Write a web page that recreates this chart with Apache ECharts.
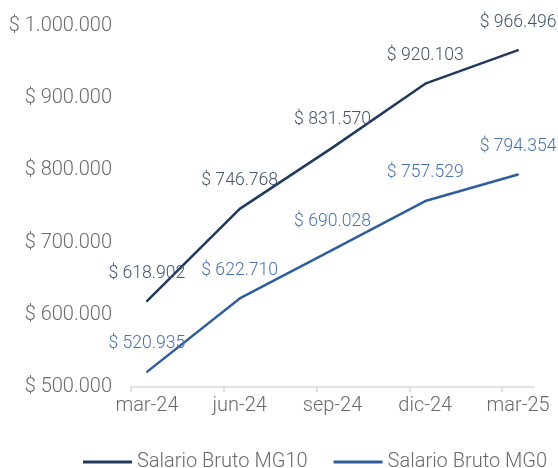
<!DOCTYPE html>
<html>
<head>
<meta charset="utf-8">
<script src="https://cdn.jsdelivr.net/npm/echarts@6/dist/echarts.min.js"></script>
<style>
	html, body { margin: 0; padding: 0; background: #fff; }
	#main { width: 558px; height: 468px; }
</style>
</head>
<body>
<div id="main"></div>
<script>
// data
const categories = ['mar-24', 'jun-24', 'sep-24', 'dic-24', 'mar-25'];
const salarioMG10 = [618902, 746768, 831570, 920103, 966496];
const salarioMG0 = [520935, 622710, 690028, 757529, 794354];
const yTicks = [500000, 600000, 700000, 800000, 900000, 1000000];

// x axis runs a bit past the first and last point, ticks sit left of each point
const pad = 0.172;

function money(v) {
	return '$ ' + String(Math.round(v)).replace(/\B(?=(\d{3})+(?!\d))/g, '.');
}

const toPairs = (arr) => arr.map((v, i) => [i, v]);

const myChart = echarts.init(document.getElementById('main'));

const labelFont = { fontFamily: 'Roboto', fontWeight: 300, fontSize: 20 };
const dataFont = { fontFamily: 'Roboto', fontWeight: 300, fontSize: 17.6 };

const option = {
	animation: false,
	grid: { left: 131, right: 24, top: 26, bottom: 81 },
	xAxis: {
		type: 'value',
		min: -pad,
		max: categories.length - 1 + pad,
		splitLine: { show: false },
		axisLine: { show: true, lineStyle: { color: '#d9d9d9', width: 1.5 } },
		axisTick: {
			show: true,
			length: 5,
			lineStyle: { color: '#d9d9d9', width: 1.5 },
			customValues: categories.map((c, i) => i - pad)
		},
		axisLabel: {
			...labelFont,
			color: '#6a6a6a',
			margin: 9,
			customValues: categories.map((c, i) => i),
			formatter: (v) => categories[Math.round(v)]
		}
	},
	yAxis: {
		type: 'value',
		min: yTicks[0],
		max: yTicks[yTicks.length - 1],
		interval: 100000,
		axisLine: { show: false },
		axisTick: { show: false },
		splitLine: { show: false },
		axisLabel: {
			...labelFont,
			color: '#6a6a6a',
			margin: 19,
			formatter: money
		}
	},
	legend: {
		left: 78,
		top: 447,
		itemWidth: 49,
		itemHeight: 3,
		itemGap: 26,
		icon: 'rect',
		textStyle: { ...labelFont, color: '#6a6a6a' },
		data: ['Salario Bruto MG10', 'Salario Bruto MG0']
	},
	series: [
		{
			name: 'Salario Bruto MG10',
			type: 'line',
			symbol: 'circle',
			symbolSize: 2,
			showSymbol: true,
			data: toPairs(salarioMG10),
			lineStyle: { color: '#203a5c', width: 2.5 },
			itemStyle: { color: '#203a5c' },
			labelLayout: { hideOverlap: false },
			label: {
				show: true,
				position: 'top',
				distance: 18,
				...dataFont,
				color: '#44546a',
				formatter: (p) => money(p.value[1])
			}
		},
		{
			name: 'Salario Bruto MG0',
			type: 'line',
			symbol: 'circle',
			symbolSize: 2,
			showSymbol: true,
			data: toPairs(salarioMG0),
			lineStyle: { color: '#2f5f9a', width: 2.5 },
			itemStyle: { color: '#2f5f9a' },
			labelLayout: { hideOverlap: false },
			label: {
				show: true,
				position: 'top',
				distance: 18,
				...dataFont,
				color: '#4a72ae',
				formatter: (p) => money(p.value[1])
			}
		}
	]
};

myChart.setOption(option);
</script>
</body>
</html>
